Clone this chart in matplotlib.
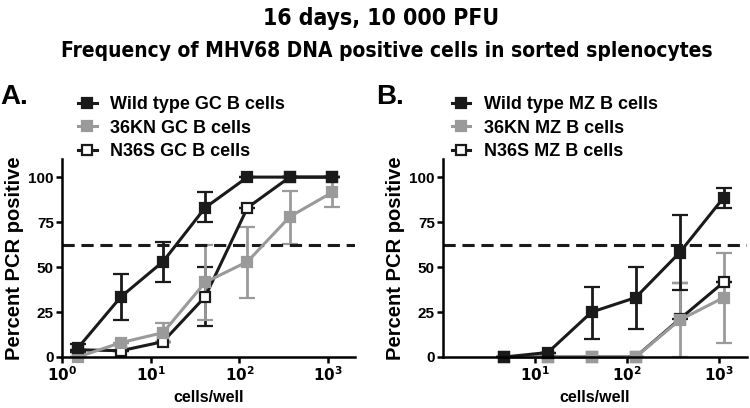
import matplotlib
matplotlib.use("Agg")
import matplotlib.pyplot as plt
from matplotlib.lines import Line2D

plt.rcParams['font.family'] = ['Liberation Sans', 'DejaVu Sans']
plt.rcParams['font.weight'] = 'bold'

# cells per well (3-fold dilutions)
cells_a = [1.5, 4.6, 13.7, 41, 123, 370, 1111]
cells_b = [4.6, 13.7, 41, 123, 370, 1111]

# panel A: GC B cells
wt_gc = [5, 33.5, 53, 83, 100, 100, 100]
wt_gc_lo = [2, 13, 11.5, 8, 0, 0, 0]
wt_gc_hi = [2, 12.5, 11, 8.5, 0, 0, 0]
kn_gc = [0, 8, 13.5, 41.5, 53, 78, 91.5]
kn_gc_lo = [0, 0, 5, 21, 20, 15, 8]
kn_gc_hi = [0, 0, 5.5, 21, 19.5, 14.5, 8.5]
ns_gc = [4, 3.5, 8.5, 33.5, 83, 100, 100]
ns_gc_lo = [0, 0, 0, 16.5, 0, 0, 0]
ns_gc_hi = [0, 0, 0, 16.5, 0, 0, 0]

# panel B: MZ B cells
wt_mz = [0, 2.5, 25, 33, 58, 88.5]
wt_mz_lo = [0, 0, 15, 17.5, 21, 5.5]
wt_mz_hi = [0, 0, 14, 17, 21, 5.5]
kn_mz = [0, 0, 0, 0, 20.5, 33]
kn_mz_lo = [0, 0, 0, 0, 20.5, 25]
kn_mz_hi = [0, 0, 0, 0, 20.5, 25]
ns_mz = [0, 0, 0, 0, 21, 41.5]
ns_mz_lo = [0, 0, 0, 0, 0, 0]
ns_mz_hi = [0, 0, 0, 0, 20, 0]

cutoff = 62.5

BLACK = '#1a1a1a'
GRAY = '#9a9a9a'
NARROW = ['Liberation Sans Narrow', 'DejaVu Sans']


def draw_series(ax, x, y, lo, hi, color, face):
    ax.errorbar(x, y, yerr=[lo, hi], color=color, lw=2.2, elinewidth=2.0,
                capsize=6, capthick=2.0, marker='s', markersize=7.5,
                markerfacecolor=face, markeredgecolor=color,
                markeredgewidth=1.6, clip_on=False)


def style_axes(ax, xticks):
    ax.set_xscale('log')
    ax.set_xlim(1, 2000)
    ax.set_ylim(0, 110)
    ax.set_xticks(xticks)
    ax.set_xticklabels([r'$\mathbf{10^{%d}}$' % len(str(t)[1:]) for t in xticks])
    ax.xaxis.set_minor_locator(matplotlib.ticker.NullLocator())
    ax.set_yticks([0, 25, 50, 75, 100])
    ax.spines['top'].set_visible(False)
    ax.spines['right'].set_visible(False)
    ax.spines['left'].set_linewidth(1.8)
    ax.spines['bottom'].set_linewidth(1.8)
    ax.tick_params(width=1.8, length=4, labelsize=11, direction='out', pad=2)
    for lab in ax.get_yticklabels():
        lab.set_fontweight('bold')
    ax.axhline(cutoff, color=BLACK, lw=2.2, ls=(0, (4, 2.2)))
    ax.set_xlabel('cells/well', fontsize=11.5, fontweight='bold', labelpad=4)
    ax.set_ylabel('Percent PCR positive', fontsize=14.5, fontweight='bold', labelpad=3)


fig = plt.figure(figsize=(7.5, 4.08), dpi=100)
ax_a = fig.add_axes([0.083, 0.125, 0.390, 0.485])
ax_b = fig.add_axes([0.591, 0.125, 0.405, 0.485])

draw_series(ax_a, cells_a, ns_gc, ns_gc_lo, ns_gc_hi, BLACK, 'white')
draw_series(ax_a, cells_a, kn_gc, kn_gc_lo, kn_gc_hi, GRAY, GRAY)
draw_series(ax_a, cells_a, wt_gc, wt_gc_lo, wt_gc_hi, BLACK, BLACK)
style_axes(ax_a, [1, 10, 100, 1000])

draw_series(ax_b, cells_b, ns_mz, ns_mz_lo, ns_mz_hi, BLACK, 'white')
draw_series(ax_b, cells_b, kn_mz, kn_mz_lo, kn_mz_hi, GRAY, GRAY)
draw_series(ax_b, cells_b, wt_mz, wt_mz_lo, wt_mz_hi, BLACK, BLACK)
style_axes(ax_b, [10, 100, 1000])


def legend_handles():
    kw = dict(lw=2.2, marker='s', markersize=7.5, markeredgewidth=1.6)
    return [Line2D([], [], color=BLACK, markerfacecolor=BLACK, **kw),
            Line2D([], [], color=GRAY, markerfacecolor=GRAY, markeredgecolor=GRAY, **kw),
            Line2D([], [], color=BLACK, markerfacecolor='white', **kw)]


labels_a = ['Wild type GC B cells', '36KN GC B cells', 'N36S GC B cells']
labels_b = ['Wild type MZ B cells', '36KN MZ B cells', 'N36S MZ B cells']
for labels, x0 in [(labels_a, 0.104), (labels_b, 0.602)]:
    fig.legend(legend_handles(), labels, loc='upper left',
               bbox_to_anchor=(x0, 0.764), frameon=False,
               prop={'size': 13, 'weight': 'bold'}, handlelength=1.05,
               handletextpad=0.75, labelspacing=0.36, borderpad=0, borderaxespad=0)

fig.text(0.0, 0.762, 'A.', fontsize=20, fontweight='bold', va='center')
fig.text(0.501, 0.762, 'B.', fontsize=20, fontweight='bold', va='center')

fig.text(0.508, 0.955, '16 days, 10 000 PFU', ha='center', va='center',
         fontsize=16.5, fontweight='bold', fontstretch='condensed', family=NARROW)
fig.text(0.516, 0.875, 'Frequency of MHV68 DNA positive cells in sorted splenocytes',
         ha='center', va='center', fontsize=15, fontweight='bold',
         fontstretch='condensed', family=NARROW)

fig.savefig('out.png', dpi=100)
